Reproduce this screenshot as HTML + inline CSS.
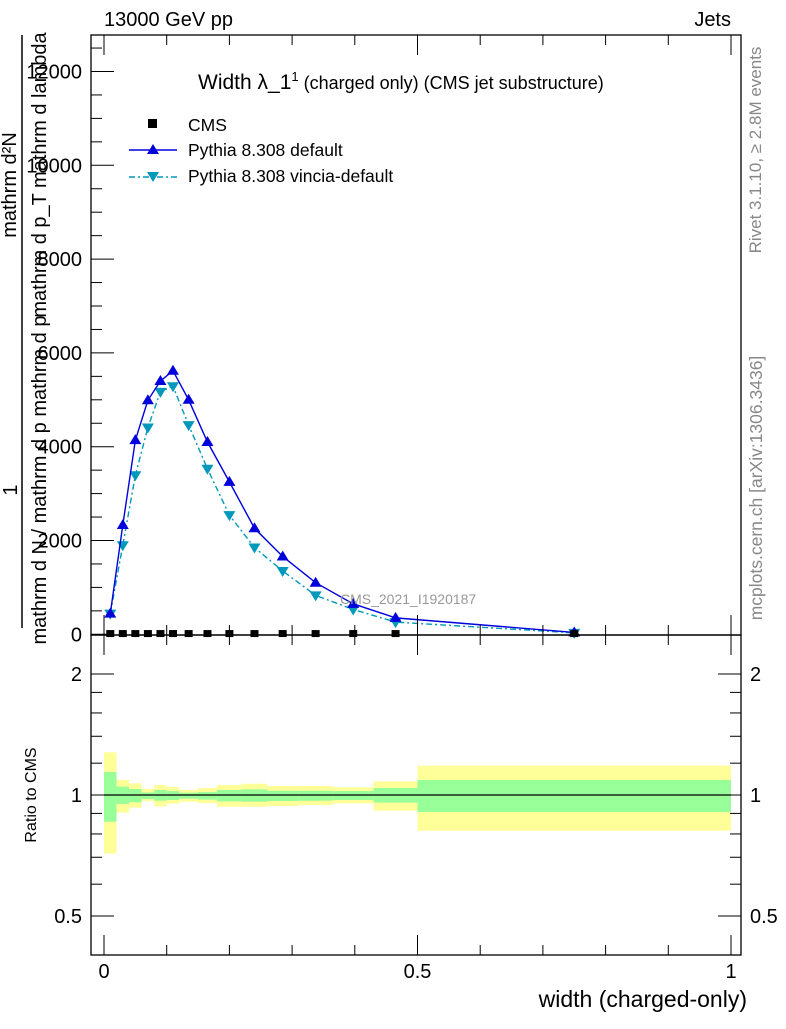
<!DOCTYPE html>
<html><head><meta charset="utf-8"><style>
body{margin:0;background:#fff;}
svg text{font-family:"Liberation Sans",sans-serif;}
</style></head><body>
<svg id="c" width="786" height="1024" viewBox="0 0 786 1024" xmlns="http://www.w3.org/2000/svg">
<g id="ratio"></g>
<g id="main"></g>
<g id="axes"></g>
<text x="104" y="26" font-size="20">13000 GeV pp</text>
<text x="731" y="26" font-size="20" text-anchor="end">Jets</text>
<text x="198" y="89" font-size="21">Width λ_1<tspan font-size="13" dy="-8">1</tspan><tspan font-size="18" dy="8"> (charged only) (CMS jet substructure)</tspan></text>
<g>
<rect x="148" y="119" width="9" height="9" fill="#000"/>
<text x="188" y="131" font-size="17.5">CMS</text>
<line x1="129" y1="150" x2="177" y2="150" stroke="#0000dd" stroke-width="1.5"/>
<polygon points="153,144 147,154 159,154" fill="#0000dd"/>
<text x="188" y="156" font-size="17.5">Pythia 8.308 default</text>
<line x1="129" y1="177" x2="177" y2="177" stroke="#0099bb" stroke-width="1.5" stroke-dasharray="6,3,2,3"/>
<polygon points="147,172 159,172 153,182" fill="#0099bb"/>
<text x="188" y="182" font-size="17.5">Pythia 8.308 vincia-default</text>
</g>
<text x="340" y="604" font-size="14" fill="#999">CMS_2021_I1920187</text>
<g font-size="20">
<line x1="22" y1="35" x2="22" y2="628" stroke="#000" stroke-width="1.5"/>
<text transform="translate(16,185) rotate(-90)" text-anchor="middle">mathrm d²N</text>
<text transform="translate(17,490) rotate(-90)" text-anchor="middle">1</text>
<text transform="translate(46,175) rotate(-90)" text-anchor="middle">mathrm d p_T mathrm d lambda</text>
<text transform="translate(46,480) rotate(-90)" text-anchor="middle">mathrm d N / mathrm d p mathrm d p</text>
</g>
<text transform="translate(36,795) rotate(-90)" font-size="16" text-anchor="middle">Ratio to CMS</text>
<text x="747" y="1007" font-size="23" text-anchor="end">width (charged-only)</text>
<text transform="translate(761,150) rotate(-90)" font-size="17" fill="#888" text-anchor="middle">Rivet 3.1.10, ≥ 2.8M events</text>
<text transform="translate(762,488) rotate(-90)" font-size="17.5" fill="#888" text-anchor="middle">mcplots.cern.ch [arXiv:1306.3436]</text>
</svg>
<script>
const binEdges=[0,0.02,0.04,0.06,0.08,0.10,0.12,0.15,0.18,0.22,0.26,0.31,0.365,0.43,0.5,1.0];
const cmsValues=[5,5,5,5,5,5,5,5,5,5,5,5,5,5,5];
const pythiaDefault=[440,2330,4140,4990,5400,5620,5000,4100,3250,2260,1660,1100,650,350,40];
const pythiaVincia=[440,1900,3390,4410,5170,5290,4460,3530,2540,1850,1350,830,530,260,30];
const yellowUp=[1.277,1.090,1.069,1.035,1.059,1.047,1.029,1.041,1.059,1.067,1.053,1.053,1.045,1.081,1.183];
const yellowDn=[0.715,0.904,0.930,0.966,0.937,0.952,0.962,0.955,0.935,0.935,0.939,0.944,0.953,0.914,0.815];
const greenUp=[1.141,1.049,1.035,1.015,1.029,1.023,1.013,1.017,1.029,1.033,1.025,1.025,1.023,1.041,1.090];
const greenDn=[0.858,0.950,0.959,0.977,0.968,0.972,0.979,0.974,0.964,0.962,0.966,0.968,0.972,0.957,0.907];
const mainTicks=[0,2000,4000,6000,8000,10000,12000];
const ratioTicks=[0.5,1,2];
const xTicks=[0,0.5,1];

const NS="http://www.w3.org/2000/svg";
const X=v=>104+627*v;
const Y=v=>634.3-v*0.0469;
const R=r=>795-121*Math.log2(r);
function mk(p,tag,at){const e=document.createElementNS(NS,tag);for(const k in at)e.setAttribute(k,at[k]);p.appendChild(e);return e;}
const main=document.getElementById('main'),ratio=document.getElementById('ratio'),axes=document.getElementById('axes');
const mids=binEdges.slice(0,-1).map((e,i)=>(e+binEdges[i+1])/2);

for(let i=0;i<mids.length;i++){
  const x0=X(binEdges[i]),w=X(binEdges[i+1])-x0;
  const y=mk(ratio,'rect',{x:x0,y:R(yellowUp[i]),width:w,height:R(yellowDn[i])-R(yellowUp[i]),fill:'#ffff99'});
  
  
  const g=mk(ratio,'rect',{x:x0,y:R(greenUp[i]),width:w,height:R(greenDn[i])-R(greenUp[i]),fill:'#99ff99'});
  
  
}
const rl=mk(ratio,'line',{x1:X(0),x2:X(1),y1:R(1),y2:R(1),stroke:'#000','stroke-width':1.3});



function series(vals,color,dash,up,name){
  const pl=mk(main,'polyline',{points:mids.map((m,i)=>X(m)+','+Y(vals[i])).join(' '),fill:'none',stroke:color,'stroke-width':1.4,'stroke-dasharray':dash});
  
  
  mids.forEach((m,i)=>{
    const x=X(m),y=Y(vals[i]);
    const pts=up?`${x},${y-6} ${x-6},${y+4} ${x+6},${y+4}`:`${x-6},${y-4} ${x+6},${y-4} ${x},${y+6}`;
    const p=mk(main,'polygon',{points:pts,fill:color});
    
    
  });
}
series(pythiaVincia,'#0099bb','6,3,2,3',false,'pythia-vincia');
series(pythiaDefault,'#0000dd','none',true,'pythia-default');
mids.forEach((m,i)=>{
  const r=mk(main,'rect',{x:X(m)-4,y:Y(cmsValues[i])-4,width:8,height:7,fill:'#000'});
  
  
});

mk(axes,'rect',{x:91,y:35,width:650,height:600,fill:'none',stroke:'#000','stroke-width':1.3});
mk(axes,'rect',{x:91,y:635,width:650,height:320,fill:'none',stroke:'#000','stroke-width':1.3});
mainTicks.forEach(v=>{
  const y=Y(v);
  mk(axes,'line',{x1:91,x2:114,y1:y,y2:y,stroke:'#000'});
  const t=mk(axes,'text',{x:82,y:y+7,'font-size':20,'text-anchor':'end'});t.textContent=v;
  
  
});
for(let v=500;v<12700;v+=500){if(v%2000){const y=Y(v);mk(axes,'line',{x1:91,x2:102,y1:y,y2:y,stroke:'#000'});}}
ratioTicks.forEach(v=>{
  const y=R(v);
  mk(axes,'line',{x1:91,x2:114,y1:y,y2:y,stroke:'#000'});
  mk(axes,'line',{x1:718,x2:741,y1:y,y2:y,stroke:'#000'});
  const t=mk(axes,'text',{x:82,y:y+7,'font-size':20,'text-anchor':'end'});t.textContent=v;
  
  
  const t2=mk(axes,'text',{x:750,y:y+7,'font-size':20});t2.textContent=v;
  
  
});
[0.6,0.7,0.8,0.9,1.2,1.4,1.6,1.8].forEach(v=>{const y=R(v);
  mk(axes,'line',{x1:91,x2:102,y1:y,y2:y,stroke:'#000'});mk(axes,'line',{x1:730,x2:741,y1:y,y2:y,stroke:'#000'});});
for(let v=0;v<=1.0001;v+=0.1){
  const x=X(v),maj=Math.abs(v*2-Math.round(v*2))<1e-6;const L=maj?20:10;
  [[635,-1],[35,1],[955,-1],[635,1]].forEach(([y0,d])=>mk(axes,'line',{x1:x,x2:x,y1:y0,y2:y0+d*L,stroke:'#000'}));
}
xTicks.forEach(v=>{
  const t=mk(axes,'text',{x:X(v),y:978,'font-size':20,'text-anchor':'middle'});t.textContent=v;
  
  
});
</script>
</body></html>
